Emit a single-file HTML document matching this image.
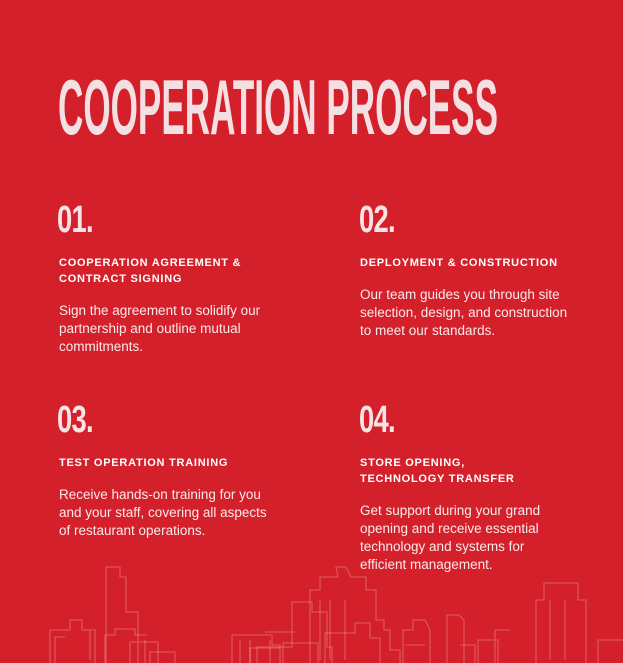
<!DOCTYPE html>
<html><head><meta charset="utf-8"><style>
body{margin:0;width:623px;height:663px;overflow:hidden;background:#d4202b;font-family:"Liberation Sans",sans-serif;color:#fff;position:relative}
.t{position:absolute}
.num{font-family:"Liberation Sans Narrow","Liberation Sans",sans-serif;font-weight:bold;font-size:38px;color:#f6e3e5;letter-spacing:-1px;transform:scaleX(0.72);transform-origin:left}
.h{font-size:11px;font-weight:bold;letter-spacing:0.75px;line-height:16px;width:260px}
.p{font-size:13.5px;line-height:18px;width:215px;color:#fbeaea}
</style></head><body>
<svg class="t" style="left:0;top:0" width="623" height="663" fill="none" stroke="rgba(255,255,255,0.22)" stroke-width="1.3">
<path d="M50 663V630h20v-10h12v10h8v30M55 663V637h10M95 663V630h-10"/>
<path d="M105 663V635h10v-6h20v6h12M145 663V640"/>
<path d="M106 663V567h14v10h6v35h12v70M130 663V642h28v21"/>
<path d="M150 663V652h25v11"/>
<path d="M232 663V635h40v10h8v18M240 663V640M250 663V640"/>
<path d="M250 663V648h30"/>
<path d="M257 663V647h35v-45h20v10h15v35h5v16M265 632h30M270 663V640"/>
<path d="M283 663V643h35v20"/>
<path d="M310 663V590h10v-13h18l-2-10h10l5 10h15v13h10v30h8v10h6v20h10v13M320 600v60M330 600v60M345 600v60"/>
<path d="M325 663V633h30v-10h15v15h10v25"/>
<path d="M403 663V630h10v-10h12l5 10v33M405 645h20"/>
<path d="M447 663V615h12l5 5v43M460 645h15v18M478 663V640h20v23M495 663V630h15"/>
<path d="M536 663V600h8v-17h34v17h8v63M550 600v60M565 600v60"/>
<path d="M598 663V640h25"/>
</svg>
<svg class="t" style="left:58px;top:68px" width="450" height="72">
<text x="0" y="66" textLength="440" lengthAdjust="spacingAndGlyphs" font-family="Liberation Sans Narrow, Liberation Sans, sans-serif" font-weight="bold" font-size="78" fill="#f4dfe2">COOPERATION PROCESS</text>
</svg>

<div class="t num" style="left:57px;top:199px">01.</div>
<div class="t h" style="left:59px;top:255px">COOPERATION AGREEMENT &amp;<br>CONTRACT SIGNING</div>
<div class="t p" style="left:59px;top:302px">Sign the agreement to solidify our partnership and outline mutual commitments.</div>

<div class="t num" style="left:359px;top:199px">02.</div>
<div class="t h" style="left:360px;top:255px">DEPLOYMENT &amp; CONSTRUCTION</div>
<div class="t p" style="left:360px;top:286px">Our team guides you through site selection, design, and construction to meet our standards.</div>

<div class="t num" style="left:57px;top:399px">03.</div>
<div class="t h" style="left:59px;top:455px">TEST OPERATION TRAINING</div>
<div class="t p" style="left:59px;top:486px">Receive hands-on training for you and your staff, covering all aspects of restaurant operations.</div>

<div class="t num" style="left:359px;top:399px">04.</div>
<div class="t h" style="left:360px;top:455px">STORE OPENING,<br>TECHNOLOGY TRANSFER</div>
<div class="t p" style="left:360px;top:502px;width:200px">Get support during your grand opening and receive essential technology and systems for efficient management.</div>
</body></html>
